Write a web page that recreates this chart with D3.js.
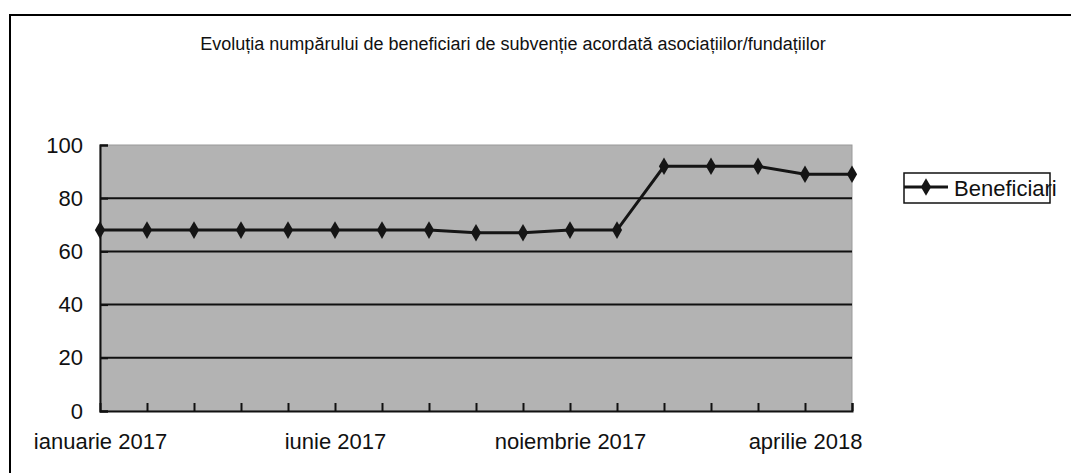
<!DOCTYPE html>
<html>
<head>
<meta charset="utf-8">
<script src="https://cdn.jsdelivr.net/npm/d3@7"></script>
<style>
  body { margin: 0; background: #fff; }
  svg { display: block; font-family: "Liberation Sans", Arial, sans-serif; }
</style>
</head>
<body>
<svg id="chart" width="1071" height="473"></svg>
<script>
// date lunare
var luni = ["ianuarie 2017","februarie 2017","martie 2017","aprilie 2017","mai 2017","iunie 2017",
  "iulie 2017","august 2017","septembrie 2017","octombrie 2017","noiembrie 2017","decembrie 2017",
  "ianuarie 2018","februarie 2018","martie 2018","aprilie 2018","mai 2018"];
var beneficiari = [68,68,68,68,68,68,68,68,67,67,68,68,92,92,92,89,89];
var etichete = ["ianuarie 2017","iunie 2017","noiembrie 2017","aprilie 2018"];
var yTicks = [0,20,40,60,80,100];

var titlu = "Evoluția numpărului de beneficiari de subvenție acordată asociațiilor/fundațiilor";

var svg = d3.select("#chart");

// rama exterioara
svg.append("path")
  .attr("d","M10,473 L10,15 L1071,15")
  .attr("fill","none").attr("stroke","#000").attr("stroke-width",2);

var x = d3.scalePoint().domain(luni).range([100,852]);
var y = d3.scaleLinear().domain([0,100]).range([411,145]);

// fundal gri
svg.append("rect")
  .attr("x",100).attr("y",145).attr("width",752).attr("height",266)
  .attr("fill","#b3b3b3").attr("stroke","#9a9a9a").attr("stroke-width",1);

// linii de grila
svg.append("g").selectAll("line")
  .data(yTicks.filter(function(d){ return d > 0 && d < 100; }))
  .enter().append("line")
  .attr("x1",100).attr("x2",852)
  .attr("y1",function(d){ return y(d); }).attr("y2",function(d){ return y(d); })
  .attr("stroke","#111").attr("stroke-width",2);

// axa Y
var yAxis = svg.append("g")
  .attr("transform","translate(100,0)")
  .call(d3.axisLeft(y).tickValues(yTicks).tickSize(-8).tickPadding(17));
yAxis.select(".domain").attr("stroke","#111").attr("stroke-width",2);
yAxis.selectAll(".tick line").attr("stroke","#111").attr("stroke-width",2);
yAxis.selectAll("text").attr("font-size",22).attr("fill","#111")
  .attr("font-family","Liberation Sans, Arial, sans-serif");

// axa X
var xAxis = svg.append("g")
  .attr("transform","translate(0,411)")
  .call(d3.axisBottom(x).tickSize(-8).tickPadding(22)
    .tickFormat(function(d){ return etichete.indexOf(d) >= 0 ? d : ""; }));
xAxis.select(".domain").attr("stroke","#111").attr("stroke-width",2);
xAxis.selectAll(".tick line").attr("stroke","#111").attr("stroke-width",2)
  .attr("display",function(d,i){ return i === 0 ? "none" : null; });
xAxis.selectAll("text").attr("font-size",22).attr("fill","#111")
  .attr("font-family","Liberation Sans, Arial, sans-serif");

// linia de date
var linie = d3.line()
  .x(function(d,i){ return x(luni[i]); })
  .y(function(d){ return y(d); });

svg.append("path")
  .datum(beneficiari)
  .attr("d",linie)
  .attr("fill","none").attr("stroke","#151515").attr("stroke-width",3);

var romb = d3.symbol().type(d3.symbolDiamond).size(90);
svg.append("g").selectAll("path")
  .data(beneficiari)
  .enter().append("path")
  .attr("d",romb)
  .attr("transform",function(d,i){ return "translate(" + x(luni[i]) + "," + y(d) + ")"; })
  .attr("fill","#151515");

// titlu
svg.append("text")
  .attr("x",513).attr("y",50)
  .attr("text-anchor","middle")
  .attr("font-size",18).attr("fill","#111")
  .text(titlu);

// legenda
var leg = svg.append("g");
leg.append("rect").attr("x",904).attr("y",173).attr("width",146).attr("height",30)
  .attr("fill","#fff").attr("stroke","#111").attr("stroke-width",1.5);
leg.append("line").attr("x1",904).attr("x2",948).attr("y1",187).attr("y2",187)
  .attr("stroke","#151515").attr("stroke-width",3);
leg.append("path").attr("d",romb).attr("transform","translate(926,187)").attr("fill","#151515");
leg.append("text").attr("x",954).attr("y",196)
  .attr("font-size",22).attr("fill","#111").text("Beneficiari");
</script>
</body>
</html>
